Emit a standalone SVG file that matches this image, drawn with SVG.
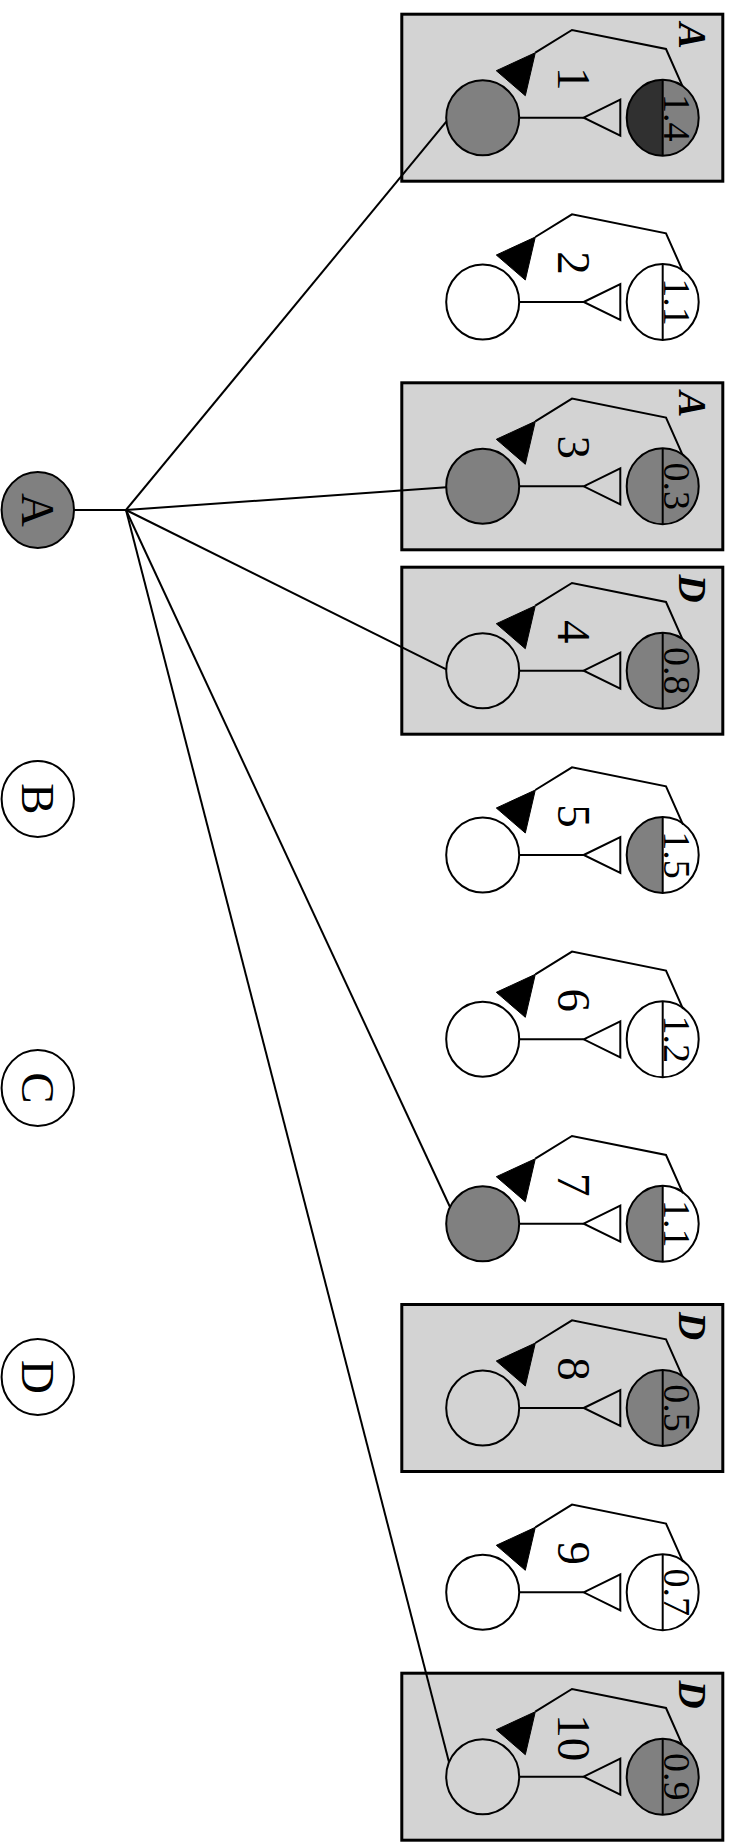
<svg xmlns="http://www.w3.org/2000/svg" width="732" height="1842" viewBox="0 0 732 1842">
<style>
.box{fill:#d3d3d3;stroke:#000;stroke-width:3}
.ln{fill:none;stroke:#000;stroke-width:2}
.c{stroke:#000;stroke-width:2}
.g{fill:#808080}
.w{fill:none}
.dk{fill:#303030}
.ot{fill:none;stroke:#000;stroke-width:2}
.ah{fill:#000;stroke:#000;stroke-width:1}
.t{font-family:"Liberation Serif","Times New Roman",serif;fill:#000}
.num{font-size:47px;text-anchor:middle}
.val{font-size:38px;text-anchor:middle}
.bl{font-size:39px;font-weight:bold;font-style:italic;text-anchor:middle}
.root{font-size:47px;text-anchor:middle}
</style>
<defs>
<g id="base">
<line class="ln" x1="519.2" y1="0" x2="583.7" y2="0"/>
<polygon class="ot" points="583.7,0 620.3,-18 620.3,18"/>
<polyline class="ln" points="683,-30.4 666,-68.7 572,-87.7 535.3,-65"/>
<polygon class="ah" points="535.3,-65 496.3,-47 525.3,-22"/>
</g>
</defs>

<g id="rootA"><ellipse class="c g" cx="37.8" cy="510" rx="36.2" ry="38"/><text class="t root" x="21.5" y="510" transform="rotate(90 21.5 510)">A</text></g>
<g id="rootB"><ellipse class="c w" cx="37.8" cy="799" rx="36.2" ry="38"/><text class="t root" x="21.5" y="799" transform="rotate(90 21.5 799)">B</text></g>
<g id="rootC"><ellipse class="c w" cx="37.8" cy="1088" rx="36.2" ry="38"/><text class="t root" x="21.5" y="1088" transform="rotate(90 21.5 1088)">C</text></g>
<g id="rootD"><ellipse class="c w" cx="37.8" cy="1377" rx="36.2" ry="38"/><text class="t root" x="21.5" y="1377" transform="rotate(90 21.5 1377)">D</text></g>

<g id="n1" transform="translate(0,117.7)">
<rect class="box" x="401.8" y="-103.5" width="321" height="167"/>
<text class="t bl" x="679" y="-82" transform="rotate(90 679 -82)">A</text>
<ellipse class="c g" cx="482.7" cy="0" rx="36.5" ry="37.5"/>
<use href="#base"/>
<path class="dk" d="M662.7,-38 A36,38 0 0 0 662.7,38 Z"/>
<path class="g" d="M662.7,-38 A36,38 0 0 1 662.7,38 Z"/>
<ellipse class="c w" cx="662.7" cy="0" rx="36" ry="38"/>
<line class="ln" x1="662.7" y1="-38" x2="662.7" y2="38"/>
<text class="t num" x="558" y="-39" transform="rotate(90 558 -39)">1</text>
<text class="t val" x="664" y="0" transform="rotate(90 664 0)">1.4</text>
</g>

<g id="n2" transform="translate(0,302)">
<ellipse class="c w" cx="482.7" cy="0" rx="36.5" ry="37.5"/>
<use href="#base"/>
<ellipse class="c w" cx="662.7" cy="0" rx="36" ry="38"/>
<line class="ln" x1="662.7" y1="-38" x2="662.7" y2="38"/>
<text class="t num" x="558" y="-39" transform="rotate(90 558 -39)">2</text>
<text class="t val" x="664" y="0" transform="rotate(90 664 0)">1.1</text>
</g>

<g id="n3" transform="translate(0,486.3)">
<rect class="box" x="401.8" y="-103.5" width="321" height="167"/>
<text class="t bl" x="679" y="-82" transform="rotate(90 679 -82)">A</text>
<ellipse class="c g" cx="482.7" cy="0" rx="36.5" ry="37.5"/>
<use href="#base"/>
<ellipse class="c g" cx="662.7" cy="0" rx="36" ry="38"/>
<line class="ln" x1="662.7" y1="-38" x2="662.7" y2="38"/>
<text class="t num" x="558" y="-39" transform="rotate(90 558 -39)">3</text>
<text class="t val" x="664" y="0" transform="rotate(90 664 0)">0.3</text>
</g>

<g id="n4" transform="translate(0,670.7)">
<rect class="box" x="401.8" y="-103.5" width="321" height="167"/>
<text class="t bl" x="679" y="-82" transform="rotate(90 679 -82)">D</text>
<ellipse class="c w" cx="482.7" cy="0" rx="36.5" ry="37.5"/>
<use href="#base"/>
<ellipse class="c g" cx="662.7" cy="0" rx="36" ry="38"/>
<line class="ln" x1="662.7" y1="-38" x2="662.7" y2="38"/>
<text class="t num" x="558" y="-39" transform="rotate(90 558 -39)">4</text>
<text class="t val" x="664" y="0" transform="rotate(90 664 0)">0.8</text>
</g>

<g id="n5" transform="translate(0,855)">
<ellipse class="c w" cx="482.7" cy="0" rx="36.5" ry="37.5"/>
<use href="#base"/>
<path class="g" d="M662.7,-38 A36,38 0 0 0 662.7,38 Z"/>
<ellipse class="c w" cx="662.7" cy="0" rx="36" ry="38"/>
<line class="ln" x1="662.7" y1="-38" x2="662.7" y2="38"/>
<text class="t num" x="558" y="-39" transform="rotate(90 558 -39)">5</text>
<text class="t val" x="664" y="0" transform="rotate(90 664 0)">1.5</text>
</g>

<g id="n6" transform="translate(0,1039.3)">
<ellipse class="c w" cx="482.7" cy="0" rx="36.5" ry="37.5"/>
<use href="#base"/>
<ellipse class="c w" cx="662.7" cy="0" rx="36" ry="38"/>
<line class="ln" x1="662.7" y1="-38" x2="662.7" y2="38"/>
<text class="t num" x="558" y="-39" transform="rotate(90 558 -39)">6</text>
<text class="t val" x="664" y="0" transform="rotate(90 664 0)">1.2</text>
</g>

<g id="n7" transform="translate(0,1223.7)">
<ellipse class="c g" cx="482.7" cy="0" rx="36.5" ry="37.5"/>
<use href="#base"/>
<path class="g" d="M662.7,-38 A36,38 0 0 0 662.7,38 Z"/>
<ellipse class="c w" cx="662.7" cy="0" rx="36" ry="38"/>
<line class="ln" x1="662.7" y1="-38" x2="662.7" y2="38"/>
<text class="t num" x="558" y="-39" transform="rotate(90 558 -39)">7</text>
<text class="t val" x="664" y="0" transform="rotate(90 664 0)">1.1</text>
</g>

<g id="n8" transform="translate(0,1408)">
<rect class="box" x="401.8" y="-103.5" width="321" height="167"/>
<text class="t bl" x="679" y="-82" transform="rotate(90 679 -82)">D</text>
<ellipse class="c w" cx="482.7" cy="0" rx="36.5" ry="37.5"/>
<use href="#base"/>
<ellipse class="c g" cx="662.7" cy="0" rx="36" ry="38"/>
<line class="ln" x1="662.7" y1="-38" x2="662.7" y2="38"/>
<text class="t num" x="558" y="-39" transform="rotate(90 558 -39)">8</text>
<text class="t val" x="664" y="0" transform="rotate(90 664 0)">0.5</text>
</g>

<g id="n9" transform="translate(0,1592.3)">
<ellipse class="c w" cx="482.7" cy="0" rx="36.5" ry="37.5"/>
<use href="#base"/>
<ellipse class="c w" cx="662.7" cy="0" rx="36" ry="38"/>
<line class="ln" x1="662.7" y1="-38" x2="662.7" y2="38"/>
<text class="t num" x="558" y="-39" transform="rotate(90 558 -39)">9</text>
<text class="t val" x="664" y="0" transform="rotate(90 664 0)">0.7</text>
</g>

<g id="n10" transform="translate(0,1776.7)">
<rect class="box" x="401.8" y="-103.5" width="321" height="167"/>
<text class="t bl" x="679" y="-82" transform="rotate(90 679 -82)">D</text>
<ellipse class="c w" cx="482.7" cy="0" rx="36.5" ry="37.5"/>
<use href="#base"/>
<ellipse class="c g" cx="662.7" cy="0" rx="36" ry="38"/>
<line class="ln" x1="662.7" y1="-38" x2="662.7" y2="38"/>
<text class="t num" x="558" y="-39" transform="rotate(90 558 -39)">10</text>
<text class="t val" x="664" y="0" transform="rotate(90 664 0)">0.9</text>
</g>

<g id="connectors">
<line class="ln" x1="74" y1="510" x2="126" y2="510"/>
<line class="ln" x1="126" y1="510" x2="446.3" y2="121.7"/>
<line class="ln" x1="126" y1="510" x2="446.3" y2="487.3"/>
<line class="ln" x1="126" y1="510" x2="446.3" y2="669.3"/>
<line class="ln" x1="126" y1="510" x2="450" y2="1207"/>
<line class="ln" x1="126" y1="510" x2="448.9" y2="1761.7"/>
</g>
</svg>
